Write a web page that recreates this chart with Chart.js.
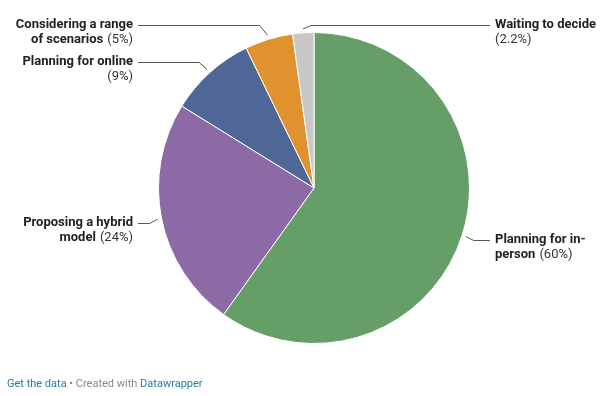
<!DOCTYPE html>
<html>
<head>
<meta charset="utf-8">
<script src="https://cdn.jsdelivr.net/npm/chart.js@4/dist/chart.umd.min.js"></script>
<style>
  html, body { margin: 0; padding: 0; background: #fff; }
  #wrap { position: relative; width: 608px; height: 396px; }
  #footer {
    position: absolute; left: 7px; top: 377px;
    font: 11px Roboto, sans-serif; color: #888;
  }
  #footer a { color: #1d81a2; text-decoration: none; }
</style>
</head>
<body>
<div id="wrap">
  <canvas id="pie" width="608" height="396"></canvas>
  <div id="footer"><a href="#">Get the data</a> • Created with <a href="#">Datawrapper</a></div>
</div>
<script>
const categories = [
  "Planning for in-person",
  "Proposing a hybrid model",
  "Planning for online",
  "Considering a range of scenarios",
  "Waiting to decide",
];
const values = [60, 24, 9, 5, 2.2];
const valueLabels = ["60%", "24%", "9%", "5%", "2.2%"];
const colors = ["#659e66", "#8c6aa6", "#4e6797", "#e0922f", "#c8c8c8"];

// text broken into lines the way the reference does it
const labelLines = [
  ["Planning for in-", "person"],
  ["Proposing a hybrid", "model"],
  ["Planning for online", ""],
  ["Considering a range", "of scenarios"],
  ["Waiting to decide", ""],
];

// where each label sits: side and first line y
const labelLayout = [
  { side: "right", y: 240 },
  { side: "left", y: 223 },
  { side: "left", y: 62 },
  { side: "left", y: 25 },
  { side: "right", y: 25 },
];

const LEFT_X = 133;
const RIGHT_X = 495;
const LINE_H = 15;

const labelPlugin = {
  id: "pieLabels",
  afterDatasetsDraw(chart) {
    const ctx = chart.ctx;
    const arcs = chart.getDatasetMeta(0).data;
    ctx.save();
    arcs.forEach((arc, i) => {
      const lay = labelLayout[i];
      const mid = (arc.startAngle + arc.endAngle) / 2;
      const r = arc.outerRadius + 4;
      const px = arc.x + Math.cos(mid) * r;
      const py = arc.y + Math.sin(mid) * r;
      const dir = lay.side === "left" ? -1 : 1;
      const ex = px + dir * 8;
      const endX = lay.side === "left" ? LEFT_X + 5 : RIGHT_X - 5;

      // leader line
      ctx.strokeStyle = "#555";
      ctx.lineWidth = 1;
      ctx.beginPath();
      ctx.moveTo(px, py);
      ctx.lineTo(ex, lay.y + 0.5);
      ctx.lineTo(endX, lay.y + 0.5);
      ctx.stroke();

      // text
      const lines = labelLines[i];
      const pct = "(" + valueLabels[i] + ")";
      const bold = "bold 13px Roboto, sans-serif";
      const norm = "13px Roboto, sans-serif";
      ctx.textBaseline = "middle";
      ctx.fillStyle = "#222";
      lines.forEach((ln, k) => {
        const y = lay.y + k * LINE_H;
        const isLast = k === lines.length - 1;
        ctx.font = bold;
        const bw = ctx.measureText(ln).width;
        const sp = ln ? 4 : 0;
        ctx.font = norm;
        const pw = isLast ? ctx.measureText(pct).width + sp : 0;
        let x = lay.side === "left" ? LEFT_X - (bw + pw) : RIGHT_X;
        ctx.textAlign = "left";
        ctx.font = bold;
        ctx.fillText(ln, x, y);
        if (isLast) {
          ctx.font = norm;
          ctx.fillStyle = "#333";
          ctx.fillText(pct, x + bw + sp, y);
          ctx.fillStyle = "#222";
        }
      });
    });
    ctx.restore();
  },
};

new Chart(document.getElementById("pie"), {
  type: "pie",
  data: {
    labels: categories,
    datasets: [
      {
        data: values,
        backgroundColor: colors,
        borderColor: "#fff",
        borderWidth: 1,
      },
    ],
  },
  options: {
    responsive: false,
    animation: false,
    layout: { padding: { top: 32, bottom: 52, left: 158, right: 138 } },
    plugins: {
      legend: { display: false },
      tooltip: { enabled: false },
    },
  },
  plugins: [labelPlugin],
});
</script>
</body>
</html>
